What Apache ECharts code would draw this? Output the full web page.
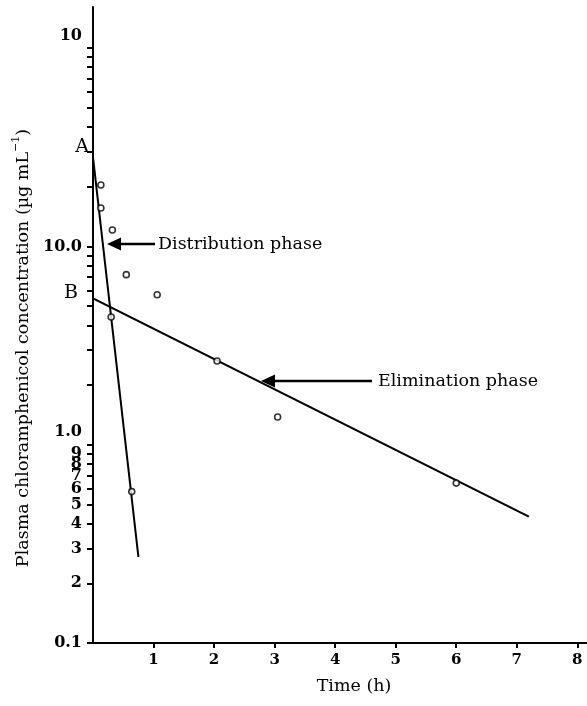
<!DOCTYPE html>
<html>
<head>
<meta charset="utf-8">
<script src="https://cdn.jsdelivr.net/npm/echarts@6/dist/echarts.min.js"></script>
<style>
  html, body { margin: 0; padding: 0; background: #fff; }
  #chart { width: 587px; height: 706px; }
</style>
</head>
<body>
<div id="chart"></div>
<script>
// observed concentrations (time h, ug/mL)
const obsTime = [0.13, 0.13, 0.32, 0.55, 1.06, 0.30, 0.64, 2.05, 3.05, 6.0];
const obsConc = [20.4, 15.6, 12.1, 7.2, 5.7, 4.4, 0.58, 2.64, 1.38, 0.64];

// fitted lines
const distTime = [0, 0.75];
const distConc = [28.1, 0.272];
const elimTime = [-0.07, 7.2];
const elimConc = [5.6, 0.434];

const xTicks = [1, 2, 3, 4, 5, 6, 7, 8];
const yTicks = [0.1, 0.2, 0.3, 0.4, 0.5, 0.6, 0.7, 0.8, 0.9,
  1, 2, 3, 4, 5, 6, 7, 8, 9,
  10, 20, 30, 40, 50, 60, 70, 80, 90, 100];
const yLabelVals = [0.1, 0.2, 0.3, 0.4, 0.5, 0.6, 0.7, 0.8, 0.9, 1, 10, 100];

const serif = 'DejaVu Serif';

function pairs(xs, ys) {
  return xs.map((x, i) => [x, ys[i]]);
}

function yLabel(v) {
  if (v < 0.95) {
    const n = Math.round(v * 10);
    return n === 1 ? '0.1' : String(n);
  }
  if (v < 5) return '{up1|1.0}';
  if (v < 50) return '10.0';
  return '{up2|10}';
}

const chart = echarts.init(document.getElementById('chart'));

chart.setOption({
  backgroundColor: '#fff',
  animation: false,
  grid: { left: 93, right: 0, top: 7, bottom: 63 },
  xAxis: {
    type: 'value',
    min: 0,
    max: 8.16,
    splitLine: { show: false },
    axisLine: { onZero: false, lineStyle: { color: '#000', width: 2 } },
    axisTick: { customValues: xTicks, length: 5, lineStyle: { color: '#000', width: 2 } },
    axisLabel: {
      customValues: xTicks,
      color: '#000', fontFamily: serif, fontSize: 15, fontWeight: 'bold', margin: 10
    }
  },
  yAxis: {
    type: 'log',
    logBase: 10,
    min: 0.1,
    max: 161,
    splitLine: { show: false },
    axisLine: { lineStyle: { color: '#000', width: 2 } },
    axisTick: { customValues: yTicks, length: 6, lineStyle: { color: '#000', width: 2 } },
    axisLabel: {
      customValues: yLabelVals,
      formatter: yLabel,
      color: '#000', fontFamily: serif, fontSize: 16, fontWeight: 'bold', margin: 11,
      rich: {
        up1: { fontFamily: serif, fontSize: 16, fontWeight: 'bold', color: '#000', padding: [0, 0, 26, 0] },
        up2: { fontFamily: serif, fontSize: 16, fontWeight: 'bold', color: '#000', padding: [0, 0, 24, 0] }
      }
    }
  },
  series: [
    {
      name: 'Distribution phase',
      type: 'line',
      data: pairs(distTime, distConc),
      symbol: 'none',
      lineStyle: { color: '#000', width: 2 }
    },
    {
      name: 'Elimination phase',
      type: 'line',
      data: pairs(elimTime, elimConc),
      symbol: 'none',
      clip: false,
      lineStyle: { color: '#000', width: 2 }
    },
    {
      name: 'Observed',
      type: 'scatter',
      data: pairs(obsTime, obsConc),
      symbol: 'circle',
      symbolSize: 6,
      itemStyle: { color: '#fff', borderColor: '#000', borderWidth: 1.6 },
      z: 5
    }
  ],
  graphic: [
    {
      type: 'text', x: 23, y: 348, rotation: Math.PI / 2,
      style: {
        text: 'Plasma chloramphenicol concentration (µg mL{sup|−1})',
        font: '17.5px "DejaVu Serif"', fill: '#000', align: 'center', verticalAlign: 'middle',
        rich: { sup: { fontSize: 11, fontFamily: serif, fill: '#000', padding: [0, 0, 13, 0] } }
      }
    },
    {
      type: 'text', x: 354, y: 686,
      style: { text: 'Time (h)', font: '17.5px "DejaVu Serif"', fill: '#000', align: 'center', verticalAlign: 'middle' }
    },
    {
      type: 'text', x: 82, y: 147,
      style: { text: 'A', font: '19px "DejaVu Serif"', fill: '#000', align: 'center', verticalAlign: 'middle' }
    },
    {
      type: 'text', x: 71, y: 293,
      style: { text: 'B', font: '19px "DejaVu Serif"', fill: '#000', align: 'center', verticalAlign: 'middle' }
    },
    // distribution arrow
    { type: 'line', shape: { x1: 118, y1: 244, x2: 155, y2: 244 }, style: { stroke: '#000', lineWidth: 2.5 } },
    { type: 'polygon', shape: { points: [[107, 244], [121, 237.5], [121, 250.5]] }, style: { fill: '#000' } },
    {
      type: 'text', x: 158, y: 244,
      style: { text: 'Distribution phase', font: '17.5px "DejaVu Serif"', fill: '#000', align: 'left', verticalAlign: 'middle' }
    },
    // elimination arrow
    { type: 'line', shape: { x1: 272, y1: 381, x2: 372, y2: 381 }, style: { stroke: '#000', lineWidth: 2.5 } },
    { type: 'polygon', shape: { points: [[261, 381], [275, 374.5], [275, 387.5]] }, style: { fill: '#000' } },
    {
      type: 'text', x: 378, y: 381,
      style: { text: 'Elimination phase', font: '17.5px "DejaVu Serif"', fill: '#000', align: 'left', verticalAlign: 'middle' }
    }
  ]
});
</script>
</body>
</html>
